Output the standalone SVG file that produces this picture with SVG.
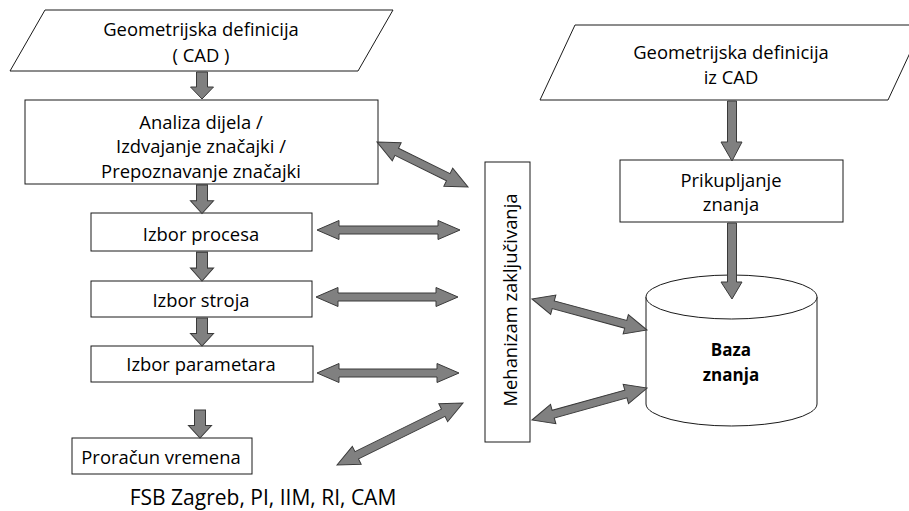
<svg xmlns="http://www.w3.org/2000/svg" width="909" height="511" viewBox="0 0 909 511">
  <style>
    .box { fill: #ffffff; stroke: #1a1a1a; stroke-width: 1; }
    .lbl { font-family: "Open Sans", "Liberation Sans", Arial, sans-serif; font-size: 18.4px; fill: #000; text-anchor: middle; }
    .bold { font-weight: bold; font-size: 17px; }
    .arr { fill: #808080; stroke: #3a3a3a; stroke-width: 1; stroke-linejoin: miter; }
  </style>
  <defs>
    <!-- short downward block arrow, tip at origin -->
    <path id="down" d="M-5.5,-27 L5.5,-27 L5.5,-12 L11.5,-12 L0,0 L-11.5,-12 L-5.5,-12 Z"/>
  </defs>
  <rect x="0" y="0" width="909" height="511" fill="#ffffff"/>

  <!-- left chain -->
  <g id="geo-left">
    <polygon class="box" points="45,10 393,10 358,71 10,71"/>
    <text class="lbl" x="201" y="36">Geometrijska definicija</text>
    <text class="lbl" x="201" y="62">( CAD )</text>
  </g>
  <g id="analiza">
    <rect class="box" x="25" y="100" width="353" height="84"/>
    <text class="lbl" x="201" y="128.5">Analiza dijela /</text>
    <text class="lbl" x="201" y="153">Izdvajanje značajki /</text>
    <text class="lbl" x="201" y="177.5">Prepoznavanje značajki</text>
  </g>
  <g id="izbor-procesa">
    <rect class="box" x="91" y="213" width="221" height="38"/>
    <text class="lbl" x="201" y="241">Izbor procesa</text>
  </g>
  <g id="izbor-stroja">
    <rect class="box" x="91" y="281" width="221" height="36"/>
    <text class="lbl" x="201" y="306.5">Izbor stroja</text>
  </g>
  <g id="izbor-parametara">
    <rect class="box" x="91" y="346" width="222" height="36"/>
    <text class="lbl" x="201" y="370.5">Izbor parametara</text>
  </g>
  <g id="proracun">
    <rect class="box" x="72" y="438" width="180" height="36"/>
    <text class="lbl" x="161" y="463.5">Proračun vremena</text>
  </g>

  <!-- inference engine -->
  <g id="mehanizam">
    <rect class="box" x="485" y="162" width="45" height="280"/>
    <text class="lbl" transform="translate(516.5,300) rotate(-90)" x="0" y="0">Mehanizam zaključivanja</text>
  </g>

  <!-- right chain -->
  <g id="geo-right">
    <polygon class="box" points="575,25 923,25 888,100 540,100"/>
    <text class="lbl" x="731" y="58.5">Geometrijska definicija</text>
    <text class="lbl" x="731" y="84">iz CAD</text>
  </g>
  <g id="prikupljanje">
    <rect class="box" x="620" y="160" width="223" height="62"/>
    <text class="lbl" x="731" y="186.5">Prikupljanje</text>
    <text class="lbl" x="731" y="211">znanja</text>
  </g>
  <g id="baza">
    <path class="box" d="M646,297 L646,404 A85.5,22 0 0 0 817,404 L817,297"/>
    <ellipse class="box" cx="731.5" cy="297" rx="85.5" ry="22"/>
    <text class="lbl bold" x="731" y="356">Baza</text>
    <text class="lbl bold" x="731" y="380.5">znanja</text>
  </g>

  <text id="footer" class="lbl" style="font-size:21px" x="263" y="505">FSB Zagreb, PI, IIM, RI, CAM</text>

  <g id="connectors">
    <!-- flow arrows -->
    <use href="#down" class="arr" transform="translate(202,99)"/>
    <use href="#down" class="arr" transform="translate(202,213.5) scale(1,1.06)"/>
    <use href="#down" class="arr" transform="translate(202,281) scale(1,1.07)"/>
    <use href="#down" class="arr" transform="translate(202,346) scale(1,1.04)"/>
    <use href="#down" class="arr" transform="translate(200,438) scale(1,1.04)"/>
    <path class="arr" d="M727.5,101 L736.5,101 L736.5,142 L742,142 L732,161 L721,142 L727.5,142 Z"/>
    <path class="arr" d="M727.5,223 L736.5,223 L736.5,282 L742,282 L732,299 L721,282 L727.5,282 Z"/>

    <!-- two-way links with the inference engine -->
    <path class="arr" transform="translate(377,142) rotate(26.3)" d="M0,0 L22,-10 L22,-4 L79.5,-4 L79.5,-10 L101.5,0 L79.5,10 L79.5,4 L22,4 L22,10 Z"/>
    <path class="arr" transform="translate(317,230)" d="M0,0 L22,-9.5 L22,-4 L121,-4 L121,-9.5 L143,0 L121,9.5 L121,4 L22,4 L22,9.5 Z"/>
    <path class="arr" transform="translate(316,297)" d="M0,0 L22,-9.5 L22,-4 L120,-4 L120,-9.5 L142,0 L120,9.5 L120,4 L22,4 L22,9.5 Z"/>
    <path class="arr" transform="translate(317,373)" d="M0,0 L22,-9.5 L22,-4 L120,-4 L120,-9.5 L142,0 L120,9.5 L120,4 L22,4 L22,9.5 Z"/>
    <path class="arr" transform="translate(337,465) rotate(-26.2)" d="M0,0 L22,-10 L22,-4 L118.4,-4 L118.4,-10 L140.4,0 L118.4,10 L118.4,4 L22,4 L22,10 Z"/>
    <path class="arr" transform="translate(532,299) rotate(15.1)" d="M0,0 L22,-10 L22,-4 L97.1,-4 L97.1,-10 L119.1,0 L97.1,10 L97.1,4 L22,4 L22,10 Z"/>
    <path class="arr" transform="translate(532,420) rotate(-15.5)" d="M0,0 L22,-10 L22,-4 L97.4,-4 L97.4,-10 L119.4,0 L97.4,10 L97.4,4 L22,4 L22,10 Z"/>
  </g>
</svg>
